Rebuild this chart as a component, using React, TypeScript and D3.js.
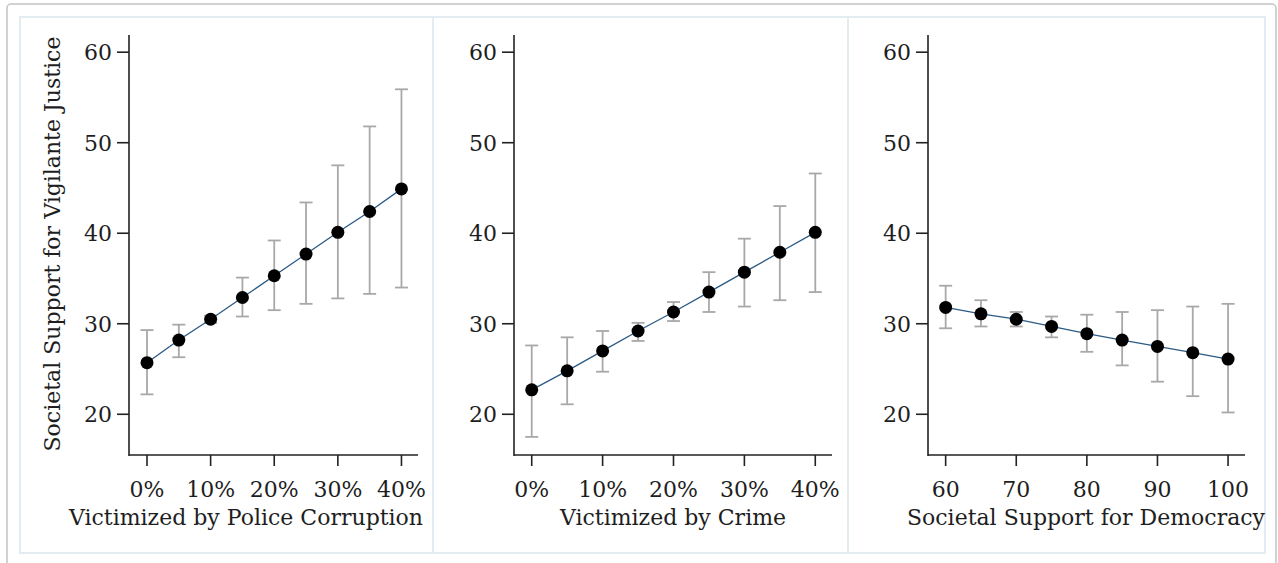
import React from 'react';
import * as d3 from 'd3';

// x values per panel
const corruptionX = [0, 5, 10, 15, 20, 25, 30, 35, 40];
const crimeX = [0, 5, 10, 15, 20, 25, 30, 35, 40];
const democracyX = [60, 65, 70, 75, 80, 85, 90, 95, 100];

// predicted support for vigilante justice, with 95% CI
const corruptionEst = [25.7, 28.2, 30.5, 32.9, 35.3, 37.7, 40.1, 42.4, 44.9];
const corruptionLo = [22.2, 26.3, 30.1, 30.8, 31.5, 32.2, 32.8, 33.3, 34.0];
const corruptionHi = [29.3, 29.9, 30.9, 35.1, 39.2, 43.4, 47.5, 51.8, 55.9];

const crimeEst = [22.7, 24.8, 27.0, 29.2, 31.3, 33.5, 35.7, 37.9, 40.1];
const crimeLo = [17.5, 21.1, 24.7, 28.1, 30.3, 31.3, 31.9, 32.6, 33.5];
const crimeHi = [27.6, 28.5, 29.2, 30.1, 32.4, 35.7, 39.4, 43.0, 46.6];

const democracyEst = [31.8, 31.1, 30.5, 29.7, 28.9, 28.2, 27.5, 26.8, 26.1];
const democracyLo = [29.5, 29.7, 29.7, 28.5, 26.9, 25.4, 23.6, 22.0, 20.2];
const democracyHi = [34.2, 32.6, 31.3, 30.8, 31.0, 31.3, 31.5, 31.9, 32.2];

const yTicks = [20, 30, 40, 50, 60];
const pctTicks = [0, 10, 20, 30, 40];
const demTicks = [60, 70, 80, 90, 100];

const yTitle = 'Societal Support for Vigilante Justice';

const panels = [
  {
    title: 'Victimized by Police Corruption', x: corruptionX, est: corruptionEst, lo: corruptionLo, hi: corruptionHi,
    ticks: pctTicks, fmt: (d: number) => d + '%', domain: [-2.83, 42.6], left: 129, right: 418,
    box: [20, 433], titleX: 246,
  },
  {
    title: 'Victimized by Crime', x: crimeX, est: crimeEst, lo: crimeLo, hi: crimeHi,
    ticks: pctTicks, fmt: (d: number) => d + '%', domain: [-2.5, 42.36], left: 514, right: 832,
    box: [433, 848], titleX: 673,
  },
  {
    title: 'Societal Support for Democracy', x: democracyX, est: democracyEst, lo: democracyLo, hi: democracyHi,
    ticks: demTicks, fmt: (d: number) => String(d), domain: [57.5, 102.4], left: 928, right: 1245,
    box: [848, 1265], titleX: 1086,
  },
];

const FONT = '"DejaVu Serif", serif';
const TXT = '#1e1e1e';

const App = () => {
  const width = 1278;
  const height = 563;
  const top = 35;
  const bottom = 455;
  const y = d3.scaleLinear().domain([15.5, 61.9]).range([bottom, top]);

  return (
    <div style={{ position: 'absolute', left: 0, top: 0 }}>
      <svg width={width} height={height} style={{ display: 'block', background: '#fff' }}>
        <rect x={7} y={4} width={1269} height={600} rx={4} fill="#fff" stroke="#c4c4c4" strokeWidth={1.5} />
        {panels.map((p, pi) => {
          const x = d3.scaleLinear().domain(p.domain).range([p.left, p.right]);
          const line = d3.line<number>().x((d, i) => x(p.x[i])).y(d => y(d));
          return (
            <g key={pi}>
              <rect x={p.box[0]} y={17} width={p.box[1] - p.box[0]} height={536} fill="#fff" stroke="#e3ecf0" strokeWidth={2} />
              {/* y axis */}
              <line x1={p.left} x2={p.left} y1={top} y2={bottom + 1} stroke="#222" strokeWidth={1.6} />
              {yTicks.map(t => (
                <g key={t}>
                  <line x1={p.left - 12} x2={p.left} y1={y(t)} y2={y(t)} stroke="#222" strokeWidth={1.6} />
                  <text x={p.left - 17} y={y(t)} dy="0.36em" textAnchor="end" fontFamily={FONT} fontSize={22} fill={TXT}>{t}</text>
                </g>
              ))}
              {/* x axis */}
              <line x1={p.left} x2={p.right} y1={bottom} y2={bottom} stroke="#222" strokeWidth={1.6} />
              {p.ticks.map(t => (
                <g key={t}>
                  <line x1={x(t)} x2={x(t)} y1={bottom} y2={bottom + 11} stroke="#222" strokeWidth={1.6} />
                  <text x={x(t)} y={497} textAnchor="middle" fontFamily={FONT} fontSize={22} fill={TXT}>{p.fmt(t)}</text>
                </g>
              ))}
              <text x={p.titleX} y={525} textAnchor="middle" fontFamily={FONT} fontSize={22} fill={TXT}>{p.title}</text>
              {/* confidence intervals */}
              {p.x.map((xv, i) => (
                <g key={i} stroke="#a8a8a8" strokeWidth={1.8}>
                  <line x1={x(xv)} x2={x(xv)} y1={y(p.lo[i])} y2={y(p.hi[i])} />
                  <line x1={x(xv) - 6.5} x2={x(xv) + 6.5} y1={y(p.lo[i])} y2={y(p.lo[i])} />
                  <line x1={x(xv) - 6.5} x2={x(xv) + 6.5} y1={y(p.hi[i])} y2={y(p.hi[i])} />
                </g>
              ))}
              <path d={line(p.est) || ''} fill="none" stroke="#2b5a84" strokeWidth={1.3} />
              {p.x.map((xv, i) => (
                <circle key={i} cx={x(xv)} cy={y(p.est[i])} r={6.5} fill="#000" />
              ))}
            </g>
          );
        })}
        <text transform="translate(60,244) rotate(-90)" textAnchor="middle" fontFamily={FONT} fontSize={22} fill={TXT}>{yTitle}</text>
      </svg>
    </div>
  );
};

export default App;
